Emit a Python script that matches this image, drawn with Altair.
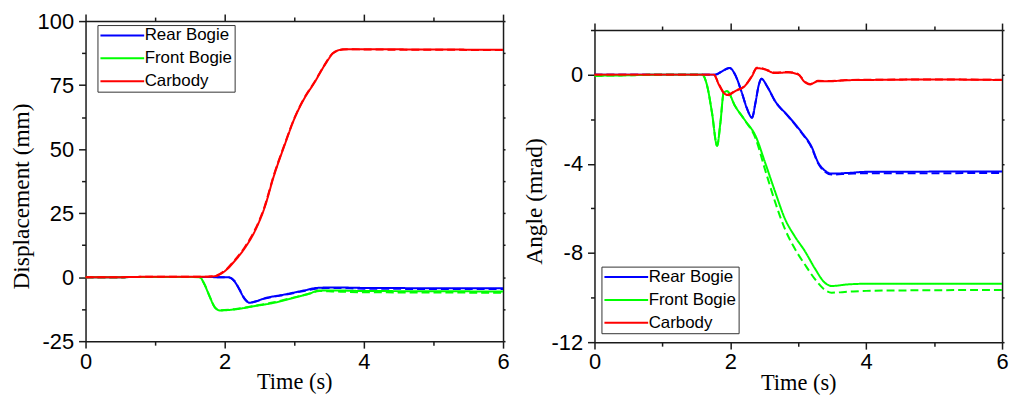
import altair as alt
import pandas as pd

# ---------------- data ----------------
SERIES = ["Rear Bogie", "Front Bogie", "Carbody"]
COLORS = ["#0000ff", "#00ff00", "#ff0000"]
KINDS = ["solid", "dashed"]

X_MAJOR = [0, 2, 4, 6]
X_MINOR = [1, 3, 5]
X_ALL = [0, 1, 2, 3, 4, 5, 6]
DISP_MAJOR = [-25, 0, 25, 50, 75, 100]
DISP_MINOR = [-12.5, 12.5, 37.5, 62.5, 87.5]
ANGLE_MAJOR = [-12, -8, -4, 0]
ANGLE_MINOR = [-10, -6, -2, 2]

# Left panel: displacement (mm)
disp_t_rear = [0, 0.5, 1.0, 1.5, 1.9, 2.05, 2.14, 2.21, 2.29, 2.36, 2.43, 2.57, 2.86, 3.14, 3.33, 3.57, 4.0, 5.0, 6.0]
disp_rear_solid = [0, 0, 0.1, 0.1, 0, 0, -1.6, -4.8, -8.7, -10.0, -9.6, -8.3, -6.8, -5.2, -4.2, -4.0, -4.2, -4.3, -4.3]
disp_rear_dashed = [0, 0, 0.1, 0.1, 0, 0, -1.5, -4.6, -8.5, -9.9, -9.6, -8.4, -6.9, -5.4, -4.4, -4.2, -4.5, -4.6, -4.6]

disp_t_front = [0, 0.5, 1.0, 1.5, 1.64, 1.71, 1.79, 1.86, 1.93, 2.14, 2.43, 2.71, 3.0, 3.21, 3.36, 3.57, 4.0, 5.0, 6.0]
disp_front_solid = [0, 0, 0.1, 0.1, 0, -2.9, -8.0, -11.9, -13.0, -12.6, -11.3, -10.0, -8.0, -6.5, -5.2, -5.2, -5.4, -5.5, -5.6]
disp_front_dashed = [0, 0, 0.1, 0.1, 0, -2.8, -7.9, -11.8, -12.9, -12.5, -11.2, -9.8, -7.9, -6.5, -5.4, -5.6, -5.9, -6.0, -6.1]

disp_t_car = [0, 0.5, 1.0, 1.5, 1.75, 1.86, 2.0, 2.14, 2.29, 2.43, 2.57, 2.71, 2.86, 3.0, 3.14, 3.29, 3.43, 3.57, 3.71, 3.85, 4.0, 5.0, 6.0]
disp_car_solid = [0, 0, 0.2, 0.2, 0.2, 0.4, 2.3, 6.2, 11.4, 17.8, 26.9, 39.8, 51.5, 61.8, 69.6, 76.0, 82.5, 87.7, 89.0, 89.0, 89.0, 88.9, 88.8]
disp_car_dashed = [0, 0, 0.2, 0.2, 0.2, 0.5, 2.5, 6.5, 11.8, 18.2, 27.3, 40.2, 51.8, 62.0, 69.8, 76.2, 82.7, 87.8, 88.9, 89.0, 88.9, 88.8, 88.7]

# Right panel: angle (mrad)
ang_t_rear = [0, 0.5, 1.0, 1.5, 1.78, 1.88, 1.99, 2.07, 2.17, 2.24, 2.32, 2.37, 2.42, 2.46, 2.54, 2.66, 2.85, 3.05, 3.2, 3.29, 3.39, 3.49, 3.73, 4.0, 5.0, 6.0]
ang_rear_solid = [0, 0, 0, 0, 0, 0.15, 0.3, 0, -0.82, -1.48, -1.93, -1.26, -0.45, -0.19, -0.52, -1.19, -1.85, -2.59, -3.26, -3.93, -4.30, -4.44, -4.41, -4.36, -4.35, -4.34]
ang_rear_dashed = [0, 0, 0, 0, 0, 0.15, 0.3, 0, -0.82, -1.48, -1.93, -1.26, -0.45, -0.19, -0.52, -1.2, -1.87, -2.62, -3.3, -3.97, -4.35, -4.48, -4.45, -4.42, -4.42, -4.41]

ang_t_front = [0, 0.5, 1.0, 1.5, 1.585, 1.66, 1.73, 1.805, 1.854, 1.902, 1.951, 2.07, 2.22, 2.37, 2.51, 2.66, 2.8, 2.95, 3.1, 3.24, 3.39, 3.49, 3.73, 4.0, 5.0, 6.0]
ang_front_solid = [-0.05, -0.03, 0, 0, 0, -0.52, -1.71, -3.19, -2.15, -0.82, -0.74, -1.41, -2.07, -2.74, -3.93, -5.26, -6.44, -7.26, -7.93, -8.67, -9.33, -9.48, -9.41, -9.38, -9.38, -9.38]
ang_front_dashed = [-0.05, -0.03, 0, 0, 0, -0.52, -1.71, -3.19, -2.15, -0.82, -0.74, -1.41, -2.07, -2.85, -4.25, -5.72, -6.9, -7.81, -8.53, -9.15, -9.65, -9.78, -9.74, -9.70, -9.67, -9.66]

ang_t_car = [0, 0.5, 1.0, 1.5, 1.756, 1.83, 1.902, 1.966, 2.07, 2.22, 2.317, 2.39, 2.488, 2.66, 2.85, 3.0, 3.098, 3.17, 3.29, 3.44, 3.73, 4.0, 5.0, 6.0]
ang_car_solid = [0, 0, 0, 0, 0, -0.44, -0.82, -0.92, -0.74, -0.49, -0.08, 0.29, 0.25, 0.07, 0.1, 0, -0.34, -0.44, -0.3, -0.3, -0.25, -0.24, -0.22, -0.24]
ang_car_dashed = [0, 0, 0, 0, 0, -0.42, -0.80, -0.90, -0.73, -0.48, -0.06, 0.31, 0.27, 0.09, 0.12, 0.02, -0.32, -0.42, -0.28, -0.29, -0.24, -0.23, -0.22, -0.23]


def build(items):
    rows = []
    for series, t, solid, dashed in items:
        for kind, vals in (("solid", solid), ("dashed", dashed)):
            for ti, vi in zip(t, vals):
                rows.append({"series": series, "kind": kind, "t": ti, "v": vi})
    return pd.DataFrame(rows)


disp_df = build([
    ("Rear Bogie", disp_t_rear, disp_rear_solid, disp_rear_dashed),
    ("Front Bogie", disp_t_front, disp_front_solid, disp_front_dashed),
    ("Carbody", disp_t_car, disp_car_solid, disp_car_dashed),
])
ang_df = build([
    ("Rear Bogie", ang_t_rear, ang_rear_solid, ang_rear_dashed),
    ("Front Bogie", ang_t_front, ang_front_solid, ang_front_dashed),
    ("Carbody", ang_t_car, ang_car_solid, ang_car_dashed),
])


def panel(data, ydom, ymajor, yminor, ytitle, ytx, yty, w, h, lx, ly):
    base = alt.Chart(data)
    x_bottom = alt.X(
        "t:Q",
        scale=alt.Scale(domain=[0, 6], nice=False, zero=False),
        axis=alt.Axis(
            orient="bottom", values=X_MAJOR, title="Time (s)", tickSize=7,
            labelExpr="'' + datum.value",
            labelPadding=3, titleFontSize=22.5, titleY=48,
            titleBaseline="alphabetic",
        ),
    )
    y_left = alt.Y(
        "v:Q",
        scale=alt.Scale(domain=ydom, nice=False, zero=False),
        axis=alt.Axis(
            orient="left", values=ymajor, title=ytitle, tickSize=7,
            labelExpr="'' + datum.value",
            labelPadding=5, titleFontSize=23.5, titleX=ytx, titleY=yty,
            titleAngle=270, titleAlign="center", titleBaseline="middle",
        ),
    )
    lines = base.mark_line(strokeWidth=2, interpolate="monotone").encode(
        x=x_bottom,
        y=y_left,
        color=alt.Color(
            "series:N",
            scale=alt.Scale(domain=SERIES, range=COLORS),
            legend=alt.Legend(
                title=None, orient="none", legendX=lx, legendY=ly,
                direction="vertical", symbolType="M-4.4,0H4.4", symbolSize=100,
                symbolStrokeWidth=2, symbolOffset=14.5, labelOffset=14,
                labelFont="Liberation Sans", labelFontSize=17,
                labelColor="black", rowPadding=5, padding=2,
                strokeColor="#333333", fillColor="white",
            ),
        ),
        strokeDash=alt.StrokeDash(
            "kind:N",
            scale=alt.Scale(domain=KINDS, range=[[1, 0], [8, 4]]),
            legend=None,
        ),
    )
    # frame on top and right, with ticks and no labels
    mirror = base.mark_point(opacity=0, size=1).encode(
        x=alt.X("t:Q", axis=alt.Axis(
            orient="top", values=X_ALL, title=None, labels=False,
            tickSize={"condition": {"test": "datum.value % 2 != 0", "value": 4},
                      "value": 7})),
        y=alt.Y("v:Q", axis=alt.Axis(
            orient="right", values=ymajor + yminor, title=None, labels=False,
            tickSize=2)),
    )
    # minor ticks on bottom and left
    minor = base.mark_point(opacity=0, size=1).encode(
        x=alt.X("t:Q", axis=alt.Axis(
            orient="bottom", values=X_MINOR, title=None, labels=False,
            tickSize=4, domain=False)),
        y=alt.Y("v:Q", axis=alt.Axis(
            orient="left", values=yminor, title=None, labels=False,
            tickSize=4, domain=False)),
    )
    return alt.layer(lines, mirror, minor).properties(width=w, height=h)


left = panel(disp_df, [-25, 100], DISP_MAJOR, DISP_MINOR,
             "Displacement (mm)", -64, 176, 420, 322, 12, 4)
right = panel(ang_df, [-12, 2], ANGLE_MAJOR, ANGLE_MINOR,
              "Angle (mrad)", -60, 172, 410, 314, 7, 238)

# empty strip that pushes the right panel a little lower, as in the reference
spacer = (
    alt.Chart(pd.DataFrame({"s": [0]}))
    .mark_point(size=0, strokeWidth=0, opacity=0, filled=True)
    .encode(x=alt.value(0), y=alt.value(0))
    .properties(width=410, height=1)
)

right_col = alt.vconcat(spacer, right, spacing=0).resolve_legend(
    color="independent", strokeDash="independent")

chart = (
    alt.hconcat(left, right_col, spacing=13)
    .resolve_legend(color="independent", strokeDash="independent")
    .properties(padding={"left": 2, "top": 1, "right": 0, "bottom": 0},
                background="white")
    .configure_view(stroke=None)
    .configure_axis(
        grid=False, domainColor="#1a1a1a", domainWidth=1.5,
        tickColor="#1a1a1a", tickWidth=1.5,
        labelFont="Liberation Sans", labelFontSize=22, labelColor="black",
        labelFlush=False, labelOverlap=False,
        titleFont="Liberation Serif", titleColor="black",
        titleFontWeight="normal",
    )
)

chart.save("out.html", embed_options={"renderer": "svg", "actions": False})
